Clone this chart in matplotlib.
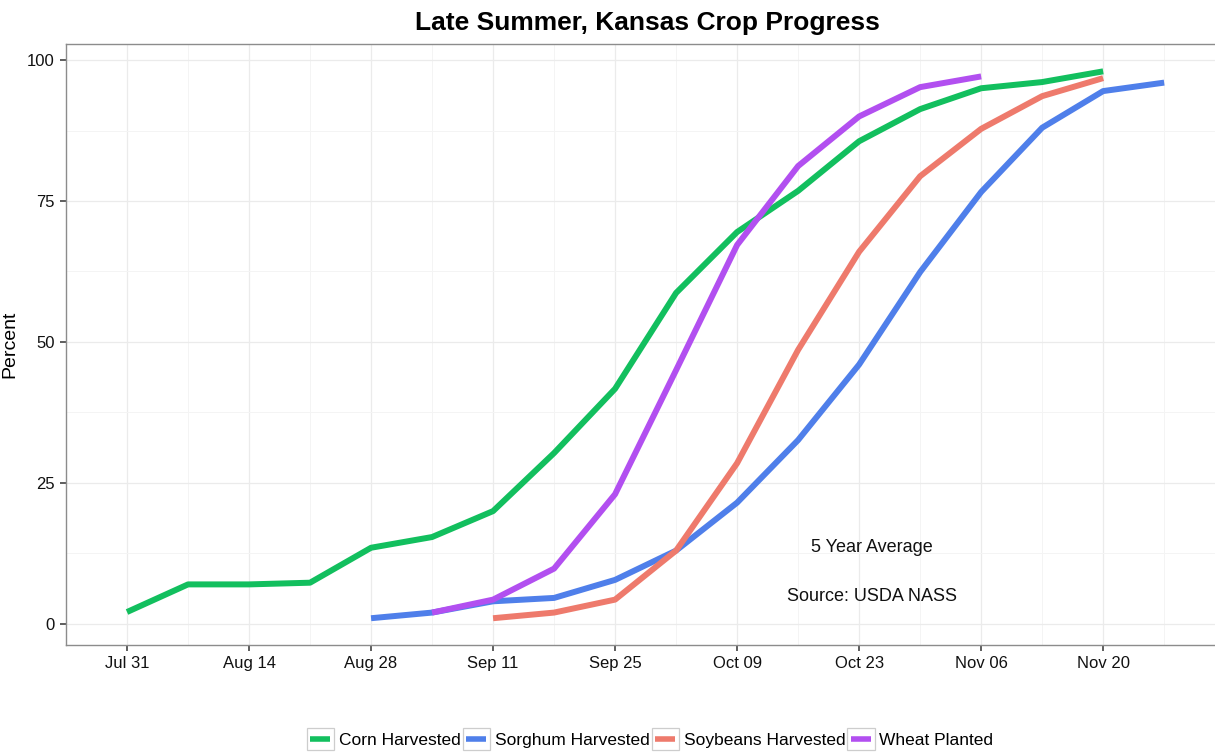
import datetime as dt
import matplotlib
matplotlib.use("Agg")
import matplotlib.pyplot as plt
import matplotlib.dates as mdates
from matplotlib.lines import Line2D
from matplotlib.patches import Rectangle
from matplotlib.legend_handler import HandlerBase

plt.rcParams['font.family'] = ['Liberation Sans', 'DejaVu Sans']

# ---- data (weekly, 5-year average, percent) ----
corn_dates = ["2016-07-31", "2016-08-07", "2016-08-14", "2016-08-21", "2016-08-28",
              "2016-09-04", "2016-09-11", "2016-09-18", "2016-09-25", "2016-10-02",
              "2016-10-09", "2016-10-16", "2016-10-23", "2016-10-30", "2016-11-06",
              "2016-11-13", "2016-11-20"]
corn_vals = [2.1, 7.0, 7.0, 7.3, 13.5, 15.4, 20.0, 30.3, 41.7, 58.7, 69.5, 76.8,
             85.6, 91.3, 95.0, 96.1, 98.0]

sorghum_dates = ["2016-08-28", "2016-09-04", "2016-09-11", "2016-09-18", "2016-09-25",
                 "2016-10-02", "2016-10-09", "2016-10-16", "2016-10-23", "2016-10-30",
                 "2016-11-06", "2016-11-13", "2016-11-20", "2016-11-27"]
sorghum_vals = [1.0, 2.0, 4.0, 4.6, 7.8, 13.0, 21.5, 32.6, 46.0, 62.4, 76.6, 88.0,
                94.5, 96.0]

soy_dates = ["2016-09-11", "2016-09-18", "2016-09-25", "2016-10-02", "2016-10-09",
             "2016-10-16", "2016-10-23", "2016-10-30", "2016-11-06", "2016-11-13",
             "2016-11-20"]
soy_vals = [1.0, 2.0, 4.3, 13.0, 28.5, 48.6, 66.0, 79.4, 87.8, 93.6, 96.8]

wheat_dates = ["2016-09-04", "2016-09-11", "2016-09-18", "2016-09-25", "2016-10-02",
               "2016-10-09", "2016-10-16", "2016-10-23", "2016-10-30", "2016-11-06"]
wheat_vals = [2.0, 4.3, 9.8, 23.0, 45.0, 67.2, 81.2, 90.0, 95.2, 97.1]

series_names = ["Corn Harvested", "Sorghum Harvested", "Soybeans Harvested", "Wheat Planted"]
series_colors = ["#12BF5E", "#4F7FEA", "#EE7A6C", "#B24FF0"]

title = "Late Summer, Kansas Crop Progress"
ylabel = "Percent"
note1 = "5 Year Average"
note2 = "Source: USDA NASS"
xtick_dates = ["2016-07-31", "2016-08-14", "2016-08-28", "2016-09-11", "2016-09-25",
               "2016-10-09", "2016-10-23", "2016-11-06", "2016-11-20"]
yticks = [0, 25, 50, 75, 100]


def to_dt(lst):
    return [dt.datetime.strptime(s, "%Y-%m-%d") for s in lst]


class KeyHandler(HandlerBase):
    def create_artists(self, legend, orig_handle, xdescent, ydescent, width, height,
                       fontsize, trans):
        x0, y0 = -xdescent, -ydescent
        box = Rectangle((x0, y0), width, height, facecolor='white',
                        edgecolor='#CDCDCD', lw=0.9, transform=trans)
        ln = Line2D([x0 + 0.14 * width, x0 + 0.86 * width],
                    [y0 + 0.5 * height, y0 + 0.5 * height],
                    color=orig_handle.get_color(), lw=4.0, solid_capstyle='butt',
                    transform=trans)
        return [box, ln]


fig = plt.figure(figsize=(12.15, 7.55), dpi=100)
ax = fig.add_axes([66 / 1215, 1 - 645 / 755, 1 - 66 / 1215 + 0.003, (645 - 44) / 755])

all_series = [(corn_dates, corn_vals), (sorghum_dates, sorghum_vals),
              (soy_dates, soy_vals), (wheat_dates, wheat_vals)]
lines = []
for (d, v), name, c in zip(all_series, series_names, series_colors):
    l, = ax.plot(to_dt(d), v, color=c, lw=4.3, solid_capstyle='butt',
                 solid_joinstyle='round', label=name, zorder=3)
    lines.append(l)

# axes limits
ax.set_xlim(dt.datetime(2016, 7, 24), dt.datetime(2016, 12, 3, 6))
ax.set_ylim(-3.75, 102.85)

xt = to_dt(xtick_dates)
ax.set_xticks(xt)
ax.xaxis.set_major_formatter(mdates.DateFormatter("%b %d"))
minor_x = [x + dt.timedelta(days=7) for x in xt]
ax.set_xticks(minor_x, minor=True)
ax.set_yticks(yticks)
ax.set_yticks([12.5, 37.5, 62.5, 87.5], minor=True)

ax.grid(True, which='major', color='#EBEBEB', lw=0.9, zorder=0)
ax.grid(True, which='minor', color='#F4F4F4', lw=0.7, zorder=0)
ax.tick_params(axis='both', which='major', length=4, width=1.1, color='#333333',
               labelsize=12, labelcolor='#111111', pad=4)
ax.tick_params(axis='both', which='minor', length=0)
for s in ax.spines.values():
    s.set_color('#8C8C8C')
    s.set_linewidth(1.0)
ax.spines['right'].set_visible(False)

ax.set_ylabel(ylabel, fontsize=14)
ax.yaxis.set_label_coords(-0.041, 0.5)
fig.text(0.533, 0.970, title, ha='center', va='center', fontsize=19, fontweight='bold')

ann_x = dt.datetime(2016, 10, 24, 12)
ax.text(ann_x, 13.6, note1, ha='center', va='center', fontsize=13, color='#111111')
ax.text(ann_x, 4.8, note2, ha='center', va='center', fontsize=13, color='#111111')

leg = fig.legend(lines, series_names, loc='center', bbox_to_anchor=(0.535, 0.021),
                 ncol=4, frameon=False, fontsize=12.5, handlelength=1.6, handleheight=1.6,
                 handletextpad=0.25, columnspacing=0.12,
                 handler_map={Line2D: KeyHandler()})

fig.savefig("out.png", dpi=100)
